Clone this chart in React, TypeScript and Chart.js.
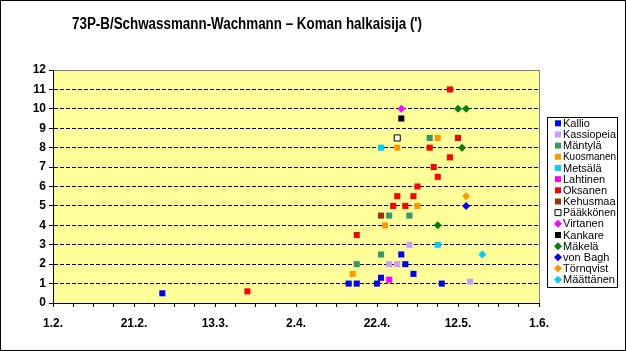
import { useEffect, useRef } from 'react';
import { Chart, registerables } from 'chart.js';
Chart.register(...registerables);

const TITLE = "73P-B/Schwassmann-Wachmann – Koman halkaisija (')";
const X_TICK_LABELS = ['1.2.', '21.2.', '13.3.', '2.4.', '22.4.', '12.5.', '1.6.'];
const Y_MAX = 12;

const kallioDates = ['28.2.', '15.4.', '17.4.', '22.4.', '23.4.', '28.4.', '29.4.', '1.5.', '8.5.'];
const kallioValues = [0.5, 1, 1, 1, 1.3, 2.5, 2, 1.5, 1];
const kassiopeiaDates = ['25.4.', '27.4.', '30.4.', '15.5.'];
const kassiopeiaValues = [2, 2, 3, 1.1];
const mantylaDates = ['17.4.', '23.4.', '25.4.', '30.4.', '5.5.'];
const mantylaValues = [2, 2.5, 4.5, 4.5, 8.5];
const kuosmanenDates = ['16.4.', '24.4.', '27.4.', '2.5.', '7.5.'];
const kuosmanenValues = [1.5, 4, 8, 5, 8.5];
const metsalaDates = ['23.4.', '7.5.'];
const metsalaValues = [8, 3];
const lahtinenDates = ['25.4.'];
const lahtinenValues = [1.2];
const oksanenDates = ['21.3.', '17.4.', '26.4.', '27.4.', '29.4.', '1.5.', '2.5.', '5.5.', '6.5.', '7.5.', '10.5.', '10.5.', '12.5.'];
const oksanenValues = [0.6, 3.5, 5, 5.5, 5, 5.5, 6, 8, 7, 6.5, 7.5, 11, 8.5];
const kehusmaaDates = ['23.4.'];
const kehusmaaValues = [4.5];
const paakkonenDates = ['27.4.'];
const paakkonenValues = [8.5];
const virtanenDates = ['28.4.'];
const virtanenValues = [10];
const kankareDates = ['28.4.'];
const kankareValues = [9.5];
const makelaDates = ['7.5.', '12.5.', '13.5.', '14.5.'];
const makelaValues = [4, 10, 8, 10];
const vonBaghDates = ['14.5.'];
const vonBaghValues = [5];
const tornqvistDates = ['14.5.'];
const tornqvistValues = [5.5];
const maattanenDates = ['18.5.'];
const maattanenValues = [2.5];

const SERIES = [
  { name: 'Kallio', dates: kallioDates, values: kallioValues, color: '#0000FF', shape: 'rect' },
  { name: 'Kassiopeia', dates: kassiopeiaDates, values: kassiopeiaValues, color: '#CC99FF', shape: 'rect' },
  { name: 'Mäntylä', dates: mantylaDates, values: mantylaValues, color: '#339966', shape: 'rect' },
  { name: 'Kuosmanen', dates: kuosmanenDates, values: kuosmanenValues, color: '#FF9900', shape: 'rect' },
  { name: 'Metsälä', dates: metsalaDates, values: metsalaValues, color: '#00CCFF', shape: 'rect' },
  { name: 'Lahtinen', dates: lahtinenDates, values: lahtinenValues, color: '#FF00FF', shape: 'rect' },
  { name: 'Oksanen', dates: oksanenDates, values: oksanenValues, color: '#FF0000', shape: 'rect' },
  { name: 'Kehusmaa', dates: kehusmaaDates, values: kehusmaaValues, color: '#993300', shape: 'rect' },
  { name: 'Pääkkönen', dates: paakkonenDates, values: paakkonenValues, color: '#FFFFFF', shape: 'rect', border: '#000000' },
  { name: 'Virtanen', dates: virtanenDates, values: virtanenValues, color: '#FF00FF', shape: 'rectRot' },
  { name: 'Kankare', dates: kankareDates, values: kankareValues, color: '#000000', shape: 'rect' },
  { name: 'Mäkelä', dates: makelaDates, values: makelaValues, color: '#008000', shape: 'rectRot' },
  { name: 'von Bagh', dates: vonBaghDates, values: vonBaghValues, color: '#0000FF', shape: 'rectRot' },
  { name: 'Törnqvist', dates: tornqvistDates, values: tornqvistValues, color: '#FF9900', shape: 'rectRot' },
  { name: 'Määttänen', dates: maattanenDates, values: maattanenValues, color: '#00CCFF', shape: 'rectRot' },
];

const START = Date.UTC(2006, 1, 1);
function dayOf(s: string): number {
  const [d, m] = s.split('.').map(Number);
  return (Date.UTC(2006, m - 1, d) - START) / 86400000;
}

const FONT = '"Liberation Sans", Arial, sans-serif';

const framePlugin = {
  id: 'frame',
  beforeDraw(chart: any) {
    const { ctx, width, height, chartArea: a } = chart;
    ctx.save();
    ctx.fillStyle = '#FFFFFF';
    ctx.fillRect(0, 0, width, height);
    ctx.fillStyle = '#FFFF99';
    ctx.fillRect(a.left, a.top, a.right - a.left, a.bottom - a.top);
    ctx.restore();
  },
  afterDraw(chart: any) {
    const { ctx, width, height, chartArea: a } = chart;
    ctx.save();
    // right plot border
    ctx.strokeStyle = '#808080';
    ctx.lineWidth = 1;
    ctx.beginPath();
    ctx.moveTo(Math.round(a.right) + 0.5, a.top);
    ctx.lineTo(Math.round(a.right) + 0.5, a.bottom);
    ctx.stroke();
    // outer frame
    ctx.strokeStyle = '#000000';
    ctx.strokeRect(0.5, 0.5, width - 1, height - 1);
    // title
    ctx.fillStyle = '#000000';
    ctx.font = `bold 16px ${FONT}`;
    ctx.textAlign = 'center';
    ctx.textBaseline = 'middle';
    ctx.fillText(TITLE, 247, 25, 350);
    // legend
    const lx = 547, ly = 117, lw = 70, lh = 170;
    ctx.fillStyle = '#FFFFFF';
    ctx.fillRect(lx, ly, lw, lh);
    ctx.strokeStyle = '#000000';
    ctx.strokeRect(lx + 0.5, ly + 0.5, lw, lh);
    ctx.font = `11px ${FONT}`;
    ctx.textAlign = 'left';
    chart.data.datasets.forEach((ds: any, i: number) => {
      const y = 123.3 + i * 11.17;
      const x = 558;
      ctx.fillStyle = ds.pointBackgroundColor;
      ctx.strokeStyle = ds.pointBorderColor;
      ctx.lineWidth = ds.pointBorderWidth;
      ctx.beginPath();
      if (ds.pointStyle === 'rect') {
        ctx.rect(x - 3, y - 3, 6, 6);
      } else {
        ctx.moveTo(x, y - 4);
        ctx.lineTo(x + 4, y);
        ctx.lineTo(x, y + 4);
        ctx.lineTo(x - 4, y);
        ctx.closePath();
      }
      ctx.fill();
      if (ds.pointBorderWidth > 0) ctx.stroke();
      ctx.fillStyle = '#000000';
      ctx.fillText(ds.label, 563, y + 0.5, 53);
    });
    ctx.restore();
  },
};

export default function App() {
  const ref = useRef<HTMLCanvasElement>(null);
  useEffect(() => {
    if (!ref.current) return;
    const datasets = SERIES.map((s) => ({
      label: s.name,
      data: s.dates.map((d, i) => ({ x: dayOf(d), y: s.values[i] })),
      pointStyle: s.shape,
      pointRadius: s.shape === 'rect' ? 4.3 : 4,
      pointBackgroundColor: s.color,
      pointBorderColor: s.border || s.color,
      pointBorderWidth: s.border ? 1 : 0,
      showLine: false,
    }));
    const chart = new Chart(ref.current, {
      type: 'scatter',
      data: { datasets },
      options: {
        animation: false,
        responsive: false,
        events: [],
        layout: { padding: { left: 0, top: 70, right: 87, bottom: 0 } },
        plugins: { legend: { display: false }, title: { display: false }, tooltip: { enabled: false } },
        scales: {
          x: {
            type: 'linear',
            min: 0,
            max: 120,
            afterFit: (s: any) => { s.height = 48; },
            grid: { drawOnChartArea: false, drawTicks: true, tickLength: 4, tickColor: '#000000', tickWidth: 1 },
            border: { color: '#000000', width: 1 },
            ticks: {
              stepSize: 5,
              autoSkip: false,
              maxRotation: 0,
              padding: 9,
              color: '#000000',
              font: { family: FONT, size: 12, weight: 'bold' },
              callback: (v: any) => (Number(v) % 20 === 0 ? X_TICK_LABELS[Number(v) / 20] : ''),
            },
          },
          y: {
            min: 0,
            max: Y_MAX,
            afterFit: (s: any) => { s.width = 53; },
            grid: {
              color: (c: any) => (c.tick.value === 0 ? 'rgba(0,0,0,0)' : c.tick.value === Y_MAX ? '#808080' : '#000000'),
              tickColor: '#000000',
              tickLength: 4,
              lineWidth: 1,
            },
            border: {
              color: '#000000',
              width: 1,
              dash: (c: any) => (c.tick && c.tick.value === Y_MAX ? [] : [4, 2]),
            },
            ticks: {
              stepSize: 1,
              padding: 3,
              color: '#000000',
              font: { family: FONT, size: 12, weight: 'bold' },
            },
          },
        },
      },
      plugins: [framePlugin],
    } as any);
    return () => chart.destroy();
  }, []);
  return (
    <div style={{ position: 'absolute', left: 0, top: 0 }}>
      <canvas ref={ref} width={626} height={351} style={{ display: 'block' }} />
    </div>
  );
}
